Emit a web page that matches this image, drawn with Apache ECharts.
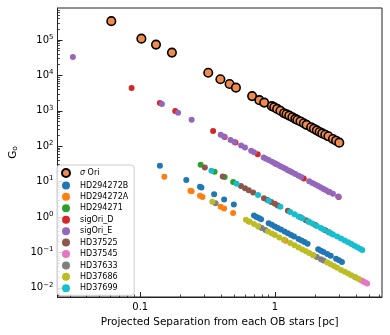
<!DOCTYPE html>
<html>
<head>
<meta charset="utf-8">
<script src="https://cdn.jsdelivr.net/npm/echarts@6/dist/echarts.min.js"></script>
<style>
  html, body { margin: 0; padding: 0; background: #fff; }
  #chart { width: 390px; height: 335px; }
</style>
</head>
<body>
<div id="chart"></div>
<script>
  // [projected separation (pc), G_o]
  var sigOri = [[0.061,340000],[0.102,109000],[0.131,74000],[0.172,44000],[0.32,11900],[0.394,7800],[0.461,5700],[0.514,4500],[0.678,2600],[0.767,2000],[0.834,1700],[0.95,1350],[0.99,1260],[1.04,1130],[1.1,1000],[1.17,850],[1.22,800],[1.28,730],[1.35,655],[1.42,590],[1.47,550],[1.55,500],[1.64,444],[1.72,400],[1.86,342],[1.95,310],[2.05,280],[2.15,251],[2.25,230],[2.37,211],[2.5,190],[2.7,160],[2.85,143],[3.01,126]]
  var hd294272B = [[0.14,28],[0.22,11.1],[0.278,7.2],[0.285,6.8],[0.354,4.4],[0.42,3.1],[0.496,2.25],[0.70,1.1],[0.73,1.0],[0.76,0.93],[0.79,0.87],[0.9,0.67],[0.95,0.6],[1.0,0.54],[1.05,0.49],[1.11,0.44],[1.18,0.39],[1.25,0.35],[1.32,0.31],[1.39,0.28],[1.5,0.24],[1.58,0.216],[1.66,0.196],[1.75,0.176],[2.1,0.122],[2.2,0.112],[2.3,0.102],[2.45,0.09],[2.6,0.08],[2.85,0.066],[3.0,0.06],[3.15,0.054]]
  var hd294272A = [[0.151,13.7],[0.236,5.5],[0.241,5.3],[0.278,4.0],[0.29,3.7],[0.396,1.95],[0.42,1.75],[0.49,1.3],[0.64,0.75],[1.2,0.215]]
  var hd294271 = [[0.281,30],[0.357,19],[0.424,13.5],[0.49,9.8],[1.79,0.74]]
  var sigOriD = [[0.0863,4400],[0.14,1660],[0.182,990],[0.348,270],[0.424,183],[0.51,127],[0.746,59],[1.01,32],[1.64,12.3],[2.51,5.2],[2.98,3.7]]
  var sigOriE = [[0.0316,33000],[0.145,1550],[0.191,880],[0.241,560],[0.396,210],[0.42,188],[0.469,150],[0.5,132],[0.562,104],[0.6,92],[0.667,74],[0.7,67],[0.826,48],[0.86,44.5],[0.9,41],[0.95,36.5],[1.0,33],[1.05,30],[1.1,27.3],[1.15,25],[1.2,23],[1.25,21],[1.3,19.5],[1.35,18.1],[1.42,16.4],[1.5,14.7],[1.57,13.4],[1.8,10.2],[1.9,9.1],[2.0,8.25],[2.1,7.5],[2.2,6.8],[2.3,6.2],[2.4,5.7],[2.55,5.1],[2.7,4.5],[2.95,3.8]]
  var hd37525 = [[0.302,25],[0.41,14],[0.56,7.5],[0.6,6.5],[0.64,5.7],[0.69,4.9],[0.83,3.4],[0.88,3.0],[0.94,2.65],[1.0,2.35],[1.05,2.1],[1.25,1.5],[1.55,0.98],[1.7,0.81],[2.0,0.59],[2.37,0.42],[2.5,0.375]]
  var hd37545 = [[1.17,0.226],[4.4,0.016],[4.55,0.015],[4.7,0.0141],[4.85,0.0132]]
  var hd37633 = [[0.363,2.44],[0.76,0.54],[0.8,0.485],[0.85,0.43],[1.93,0.083],[2.05,0.074],[2.2,0.064],[2.3,0.059],[3.95,0.0199]]
  var hd37686 = [[0.343,2.7],[0.61,0.83],[0.65,0.73],[0.7,0.63],[0.75,0.55],[0.89,0.39],[0.95,0.34],[1.0,0.31],[1.08,0.265],[1.17,0.226],[1.3,0.183],[1.4,0.158],[1.5,0.138],[1.6,0.121],[1.7,0.107],[1.8,0.096],[1.93,0.083],[2.45,0.052],[2.6,0.046],[2.75,0.041],[2.9,0.037],[3.1,0.032],[3.3,0.0285],[3.5,0.0253],[3.7,0.0226],[4.0,0.0194],[4.2,0.0176]]
  var hd37699 = [[0.338,20.4],[0.52,8.7],[0.75,4.2],[0.9,2.9],[1.1,1.95],[1.3,1.39],[1.4,1.2],[1.5,1.04],[1.6,0.92],[1.77,0.75],[1.9,0.65],[2.05,0.56],[2.2,0.485],[2.3,0.445],[2.5,0.375],[2.6,0.345],[2.7,0.32],[2.9,0.28],[3.1,0.245],[3.3,0.216],[3.5,0.192],[3.7,0.172],[3.9,0.155],[4.1,0.14],[4.3,0.127],[4.46,0.117]]

  var names = ['σ Ori','HD294272B','HD294272A','HD294271','sigOri_D','sigOri_E','HD37525','HD37545','HD37633','HD37686','HD37699']
  var datasets = [sigOri, hd294272B, hd294272A, hd294271, sigOriD, sigOriE, hd37525, hd37545, hd37633, hd37686, hd37699]
  var colors = ['#f08b4d','#1f77b4','#ff7f0e','#2ca02c','#d62728','#9467bd','#8c564b','#e377c2','#7f7f7f','#bcbd22','#17becf']

  // axis ranges and minor tick positions (log axes)
  var xMin = 0.0243, xMax = 6.25
  var yMin = 0.0055, yMax = 800000
  var xMinorTicks = [0.03,0.04,0.05,0.06,0.07,0.08,0.09,0.2,0.3,0.4,0.5,0.6,0.7,0.8,0.9,2,3,4,5,6]
  var yMinorTicks = []
  var decades = [0.001,0.01,0.1,1,10,100,1000,10000,100000]
  var mults = [2,3,4,5,6,7,8,9]
  decades.forEach(function (d) {
    mults.forEach(function (m) {
      var v = d * m
      if (v > yMin && v < yMax) yMinorTicks.push(v)
    })
  })

  var font = 'DejaVu Sans'
  var ink = '#222'

  var series = []
  for (var i = 0; i < names.length; i++) {
    var s = {
      name: names[i],
      type: 'scatter',
      xAxisIndex: 0,
      yAxisIndex: 0,
      data: datasets[i],
      symbol: 'circle',
      symbolSize: 6,
      itemStyle: { color: colors[i], opacity: 1 },
      emphasis: { disabled: true }
    }
    if (i === 0) {
      s.symbolSize = 8.5
      s.itemStyle = { color: colors[i], borderColor: '#000', borderWidth: 1.6, opacity: 1 }
    }
    series.push(s)
  }

  // overlay value axes (log10 space) only used to draw minor ticks
  function minorAxis (min, max, ticks, pos) {
    return {
      type: 'value', position: pos,
      min: Math.log10(min), max: Math.log10(max),
      axisLine: { show: false, onZero: false },
      axisLabel: { show: false },
      splitLine: { show: false },
      axisTick: {
        show: true, inside: true, length: 2.5,
        lineStyle: { color: ink, width: 0.8 },
        customValues: ticks.map(function (v) { return Math.log10(v) })
      }
    }
  }

  var chart = echarts.init(document.getElementById('chart'), null, { renderer: 'canvas' })
  var option = {
    animation: false,
    textStyle: { fontFamily: font },
    grid: { left: 55, right: 8, top: 8, bottom: 38, show: true, borderColor: ink, borderWidth: 1 },
    legend: {
      orient: 'vertical',
      left: 57, top: 165,
      padding: [3, 6, 3, 4],
      borderColor: '#cccccc', borderWidth: 1, borderRadius: 3,
      backgroundColor: 'rgba(255,255,255,0.85)',
      itemWidth: 18, itemHeight: 8, itemGap: 3.43,
      data: names,
      formatter: function (n) { return n === 'σ Ori' ? '{it|σ} Ori' : n },
      textStyle: {
        fontFamily: font, fontSize: 8, lineHeight: 8, color: '#000',
        rich: { it: { fontStyle: 'italic', fontFamily: font, fontSize: 8, color: '#000' } }
      }
    },
    xAxis: [{
      type: 'log', logBase: 10, min: xMin, max: xMax, position: 'bottom',
      name: 'Projected Separation from each OB stars [pc]',
      nameLocation: 'middle', nameGap: 19,
      nameTextStyle: { fontFamily: font, fontSize: 10.5, color: '#000' },
      axisLine: { show: true, onZero: false, lineStyle: { color: ink, width: 1 } },
      axisTick: { show: true, inside: true, length: 5, lineStyle: { color: ink } },
      minorTick: { show: false },
      axisLabel: {
        fontFamily: font, fontSize: 10, color: '#000', margin: 5,
        showMinLabel: false, showMaxLabel: false,
        formatter: function (v) { return String(+v.toPrecision(3)) }
      },
      splitLine: { show: false }
    }, minorAxis(xMin, xMax, xMinorTicks, 'bottom')],
    yAxis: [{
      type: 'log', logBase: 10, min: yMin, max: yMax, position: 'left',
      name: '{g|G}{s|o}',
      nameLocation: 'middle', nameGap: 38, nameRotate: 90,
      nameTextStyle: {
        rich: {
          g: { fontFamily: font, fontSize: 10.5, color: '#000' },
          s: { fontFamily: font, fontSize: 7.5, color: '#000', padding: [4, 0, 0, 0] }
        }
      },
      axisLine: { show: true, onZero: false, lineStyle: { color: ink, width: 1 } },
      axisTick: { show: true, inside: true, length: 5, lineStyle: { color: ink } },
      minorTick: { show: false },
      axisLabel: {
        fontFamily: font, fontSize: 10, color: '#000', margin: 4,
        showMinLabel: false, showMaxLabel: false,
        formatter: function (v) {
          var e = String(Math.round(Math.log10(v))).replace('-', '−')
          return '10{sup|' + e + '}'
        },
        rich: {
          sup: { fontFamily: font, fontSize: 7, color: '#000', verticalAlign: 'bottom', padding: [0, 0, 6, 0] }
        }
      },
      splitLine: { show: false }
    }, minorAxis(yMin, yMax, yMinorTicks, 'left')],
    series: series
  }
  chart.setOption(option)
</script>
</body>
</html>
